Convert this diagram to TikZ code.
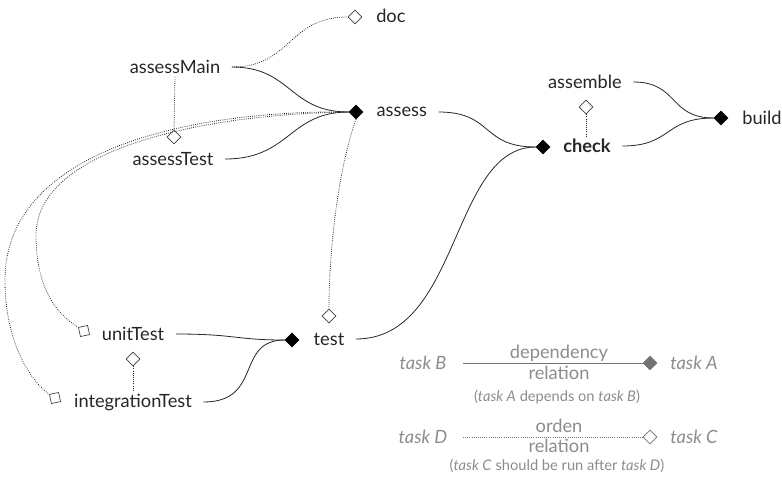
\documentclass[tikz,border=0pt]{standalone}
\usepackage{fontspec}
\setmainfont{Lato}
\usetikzlibrary{shapes.geometric}
\begin{document}
\begin{tikzpicture}[x=0.75pt,y=-0.75pt,
  lbl/.style={font=\fontsize{13.7}{16}\selectfont, text=black!85, inner xsep=8.5pt, inner ysep=2pt},
  fdia/.style={diamond, fill=black, draw=black, minimum size=10.5pt, inner sep=0pt},
  odia/.style={diamond, draw=black!75, fill=white, line width=0.5pt, minimum size=10.5pt, inner sep=0pt},
  osq/.style={rectangle, draw=black!75, line width=0.5pt, minimum size=7pt, inner sep=0pt, rotate=12},
  dep/.style={draw=black!85, line width=0.6pt},
  ord/.style={draw=black!85, densely dotted, line width=0.6pt},
  leg/.style={font=\fontsize{13.7}{16}\selectfont, text=black!45, inner sep=1pt},
  legsmall/.style={font=\fontsize{11}{13}\selectfont, text=black!45, inner sep=1pt},
  legline/.style={draw=black!55, line width=0.6pt},
]
\useasboundingbox (0,0) rectangle (782,480);

% nodes
\node[lbl] (assessMain) at (175,67) {assessMain};
\node[lbl] (assessTest) at (173,159) {assessTest};
\node[odia] (assessTestO) at (174,137) {};
\node[odia] (docO) at (355,17) {};
\node[lbl, anchor=west, inner xsep=0pt] (doc) at (376,16) {doc};
\node[fdia] (assessD) at (356,112) {};
\node[lbl, anchor=west] (assess) at (365,112) {assess};
\node[lbl] (assemble) at (585,82) {assemble};
\node[odia] (assembleO) at (586,107) {};
\node[lbl, font=\fontsize{13.7}{16}\selectfont\bfseries] (check) at (587,146) {check};
\node[fdia] (checkD) at (543,147) {};
\node[fdia] (buildD) at (721,118) {};
\node[lbl, anchor=west, inner xsep=0pt] (build) at (742,118) {build};
\node[fdia] (testD) at (292,340) {};
\node[lbl] (test) at (329,339) {test};
\node[odia] (testO) at (329,316) {};
\node[lbl] (unitTest) at (133,334) {unitTest};
\node[osq] (unitSq) at (84,331) {};
\node[odia] (unitTestO) at (133,359) {};
\node[lbl] (integrationTest) at (133,402) {integrationTest};
\node[osq] (intSq) at (55,398) {};

% dependency relations
\draw[dep] (assessMain.east) .. controls +(60,0) and +(-60,0) .. (assessD.west);
\draw[dep] (assessTest.east) .. controls +(65,0) and +(-60,0) .. (assessD.west);
\draw[dep] (assess.east) .. controls +(55,0) and +(-55,0) .. (checkD.west);
\draw[dep] (test.east) .. controls +(105,0) and +(-85,0) .. (checkD.west);
\draw[dep] (assemble.east) .. controls +(45,0) and +(-45,0) .. (buildD.west);
\draw[dep] (check.east) .. controls +(50,0) and +(-50,0) .. (buildD.west);
\draw[dep] (unitTest.east) .. controls +(60,0) and +(-50,0) .. (testD.west);
\draw[dep] (integrationTest.east) .. controls +(60,0) and +(-50,0) .. (testD.west);

% order relations
\draw[ord] (assessMain.east) .. controls +(60,0) and +(-60,0) .. (docO.west);
\draw[ord] (assessMain.south) -- (assessTestO.north);
\draw[ord] (assembleO.south) -- (check.north -| assembleO.south);
\draw[ord] (unitTestO.south) -- (integrationTest.north -| unitTestO.south);
\draw[ord] (assessD.south) .. controls (338,170) and (329,250) .. (testO.north);
\draw[ord] (assessD.west) .. controls (200,114) and (36,150) .. (36,235)
  .. controls (36,290) and (58,315) .. (unitSq.north west);
\draw[ord] (assessD.west) .. controls (190,110) and (5,150) .. (5,280)
  .. controls (5,345) and (32,382) .. (intSq.north west);

% legend
\node[leg, font=\fontsize{13.7}{16}\selectfont\itshape] (tB) at (423,363) {task B};
\node[leg, font=\fontsize{13.7}{16}\selectfont\itshape] (tA) at (694,363) {task A};
\node[diamond, fill=black!55, draw=black!55, minimum size=10.5pt, inner sep=0pt] (legD1) at (650,363) {};
\coordinate (legS1) at (463,363);
\draw[legline] (legS1) -- (legD1.west);
\node[leg] (depl) at (559,353) {dependency};
\node[leg] (rel1) at (559,373) {relation};
\node[legsmall] (cap1) at (557,397) {(\textit{task A} depends on \textit{task B})};

\node[leg, font=\fontsize{13.7}{16}\selectfont\itshape] (tD) at (423,437) {task D};
\node[leg, font=\fontsize{13.7}{16}\selectfont\itshape] (tC) at (694,437) {task C};
\node[diamond, fill=white, draw=black!55, line width=0.5pt, minimum size=10.5pt, inner sep=0pt] (legD2) at (650,437) {};
\coordinate (legS2) at (463,437);
\draw[legline, densely dotted] (legS2) -- (legD2.west);
\node[leg] (ordl) at (559,426) {orden};
\node[leg] (rel2) at (559,446) {relation};
\node[legsmall] (cap2) at (557,466) {(\textit{task C} should be run after \textit{task D})};
\end{tikzpicture}
\end{document}
